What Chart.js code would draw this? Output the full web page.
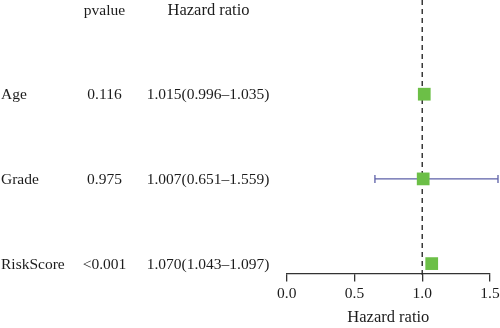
<!DOCTYPE html>
<html>
<head>
<meta charset="utf-8">
<script src="https://cdn.jsdelivr.net/npm/chart.js@4"></script>
<style>
  html, body { margin: 0; padding: 0; background: #ffffff; }
  #wrap { width: 500px; height: 328px; }
</style>
</head>
<body>
<div id="wrap"><canvas id="c" width="500" height="328"></canvas></div>
<script>
// ---- data ----
const variables = ['Age', 'Grade', 'RiskScore'];
const pvalueLabels = ['0.116', '0.975', '<0.001'];
const hazardRatio = [1.015, 1.007, 1.070];
const lowerCI = [0.996, 0.651, 1.043];
const upperCI = [1.035, 1.559, 1.097];
const xTickValues = [0.0, 0.5, 1.0, 1.5];
const referenceValue = 1;
const headerLabels = ['pvalue', 'Hazard ratio'];
const xAxisTitle = 'Hazard ratio';

// ---- styling ----
const FONT = "'Liberation Serif', 'DejaVu Serif', serif";
const FSIZE = 15.5;
const HSIZE = 16.5;
const TEXT_COLOR = '#1c1c1c';
const BOX_COLOR = '#6cbf47';
const CI_COLOR = '#5d60a8';
const Y_MIN = -0.112, Y_MAX = 3.118;

const rowIndex = variables.map((_, i) => i + 1);
const hrLabels = hazardRatio.map((v, i) =>
  v.toFixed(3) + '(' + lowerCI[i].toFixed(3) + '\u2013' + upperCI[i].toFixed(3) + ')');

const ciPlugin = {
  id: 'ciBars',
  afterDatasetDraw(chart, args) {
    if (args.index !== 0) return;
    const ctx = chart.ctx, xs = chart.scales.x, ys = chart.scales.y;
    ctx.save();
    ctx.strokeStyle = CI_COLOR;
    ctx.lineWidth = 1.3;
    rowIndex.forEach((r, i) => {
      const y = ys.getPixelForValue(r);
      const x0 = xs.getPixelForValue(lowerCI[i]);
      const x1 = xs.getPixelForValue(upperCI[i]);
      ctx.beginPath();
      ctx.moveTo(x0, y); ctx.lineTo(x1, y);
      ctx.moveTo(x0, y - 4); ctx.lineTo(x0, y + 4);
      ctx.moveTo(x1, y - 4); ctx.lineTo(x1, y + 4);
      ctx.stroke();
    });
    ctx.restore();
  }
};

const textPlugin = {
  id: 'tableText',
  afterDraw(chart) {
    const ctx = chart.ctx, ys = chart.scales.y;
    ctx.save();
    ctx.fillStyle = TEXT_COLOR;
    ctx.textBaseline = 'middle';
    ctx.textAlign = 'center';
    ctx.font = FSIZE + 'px ' + FONT;
    ctx.fillText(headerLabels[0], 104.5, 11);
    ctx.font = HSIZE + 'px ' + FONT;
    ctx.fillText(headerLabels[1], 208.5, 11);
    ctx.font = FSIZE + 'px ' + FONT;
    rowIndex.forEach((r, i) => {
      const y = ys.getPixelForValue(r) + 1;
      ctx.textAlign = 'left';
      ctx.fillText(variables[i], 1, y);
      ctx.textAlign = 'center';
      ctx.fillText(pvalueLabels[i], 104.5, y);
      ctx.fillText(hrLabels[i], 208, y);
    });
    ctx.restore();
  }
};

new Chart(document.getElementById('c'), {
  type: 'scatter',
  data: {
    datasets: [
      {
        type: 'line',
        data: [{ x: referenceValue, y: Y_MIN }, { x: referenceValue, y: Y_MAX + 0.05 }],
        borderColor: '#2b2b2b',
        borderWidth: 1.4,
        borderDash: [5, 4],
        pointRadius: 0,
        fill: false,
        clip: false,
        order: 3
      },
      {
        data: hazardRatio.map((v, i) => ({ x: v, y: rowIndex[i] })),
        pointStyle: 'rect',
        radius: 9,
        backgroundColor: BOX_COLOR,
        borderColor: BOX_COLOR,
        borderWidth: 0,
        clip: false,
        order: 1
      }
    ]
  },
  options: {
    responsive: false,
    devicePixelRatio: 1,
    animation: false,
    events: [],
    layout: { autoPadding: false, padding: { left: 286.7, right: 10, top: 0, bottom: 0 } },
    plugins: { legend: { display: false }, tooltip: { enabled: false } },
    scales: {
      x: {
        type: 'linear',
        min: 0, max: 1.5,
        afterBuildTicks(scale) { scale.ticks = xTickValues.map(v => ({ value: v })); },
        afterFit(scale) { scale.paddingRight = 0; scale.paddingLeft = 0; },
        grid: { drawOnChartArea: false, drawTicks: true, tickLength: 8, color: '#333', lineWidth: 1.3 },
        border: { display: true, color: '#333', width: 1.3 },
        ticks: {
          padding: 3,
          color: TEXT_COLOR,
          font: { family: FONT, size: FSIZE },
          maxRotation: 0,
          callback: v => Number(v).toFixed(1)
        },
        title: {
          display: true,
          text: xAxisTitle,
          color: TEXT_COLOR,
          font: { family: FONT, size: HSIZE },
          padding: { top: 2, bottom: 0 }
        }
      },
      y: {
        type: 'linear',
        display: false,
        reverse: true,
        min: Y_MIN, max: Y_MAX
      }
    }
  },
  plugins: [ciPlugin, textPlugin]
});
</script>
</body>
</html>
